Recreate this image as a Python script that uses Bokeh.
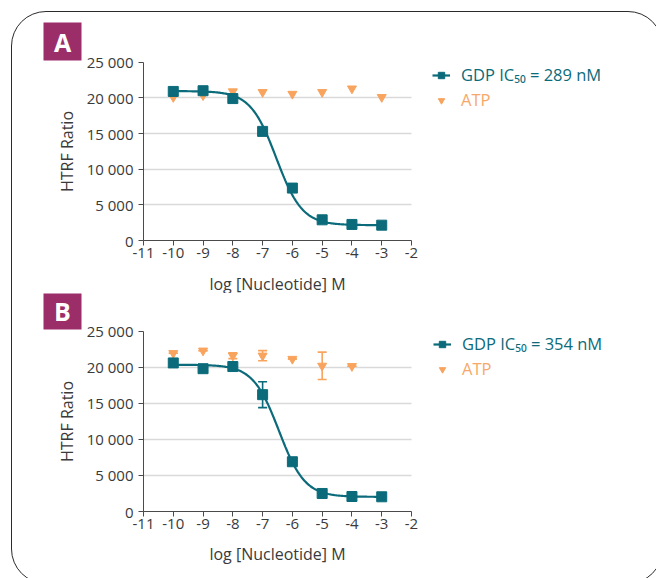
import numpy as np
from bokeh.plotting import figure
from bokeh.layouts import column
from bokeh.models import (Range1d, FixedTicker, Legend, LegendItem, Label, BoxAnnotation,
                          ColumnDataSource, Whisker, TeeHead)
from bokeh.embed import file_html
from bokeh.resources import INLINE

# ---------------- data ----------------
log_conc = [-10, -9, -8, -7, -6, -5, -4, -3]
x_ticks = [-11, -10, -9, -8, -7, -6, -5, -4, -3, -2]
x_tick_labels = ["-11", "-10", "-9", "-8", "-7", "-6", "-5", "-4", "-3", "-2"]
y_ticks = [0, 5000, 10000, 15000, 20000, 25000]
y_tick_labels = ["0", "5 000", "10 000", "15 000", "20 000", "25 000"]
grid_ticks = [5000, 10000, 15000, 20000]
x_title = "log [Nucleotide] M"
y_title = "HTRF Ratio"

# Panel A
a_gdp = [20900, 21000, 19900, 15300, 7350, 2900, 2250, 2150]
a_atp = [20100, 20350, 20900, 20800, 20550, 20800, 21300, 20100]
a_fit = dict(top=20950, bottom=2150, ic50_nM=289, hill=1.0)
a_label = "GDP IC\u2085\u2080 = 289 nM"

# Panel B
b_gdp = [20600, 19800, 20100, 16200, 6900, 2500, 2080, 2040]
b_gdp_err = [0, 0, 0, 1800, 0, 0, 0, 0]
b_atp_x = [-10, -9, -8, -7, -6, -5, -4]
b_atp = [21950, 22300, 21600, 21600, 21150, 20200, 20150]
b_atp_err = [0, 0, 400, 700, 0, 1900, 0]
b_fit = dict(top=20350, bottom=2030, ic50_nM=354, hill=1.0)
b_label = "GDP IC\u2085\u2080 = 354 nM"

TEAL = "#0b6b7a"
ORANGE = "#f8a45e"
ORANGE_TXT = "#f6a86a"
MAGENTA = "#9b2d69"
AX = "#4a4a4a"
TXT = "#3a3a3a"
FONT = "Open Sans"

# ---------------- layout (page pixels) ----------------
FIG_W = 650
PAGE_LEFT = 12            # left of figures on the page (inside rounded border)
AXIS_X_PAGE = 143         # where x = -11 sits
AXIS_END_PAGE = 411       # where x = -2 sits
X_MIN, X_MAX = x_ticks[0], x_ticks[-1]
Y_MIN, Y_MAX = y_ticks[0], y_ticks[-1]


def fit_curve(par):
    xs = np.linspace(-10, -3, 200)
    log_ic50 = np.log10(par["ic50_nM"] * 1e-9)
    ys = par["bottom"] + (par["top"] - par["bottom"]) / (1 + 10 ** ((xs - log_ic50) * par["hill"]))
    return xs, ys


def make_panel(letter, gdp, gdp_err, atp_x, atp, atp_err, par, label,
               fig_top, fig_bot, y0_page, ytop_page, leg_bottoms, leg_x_page,
               box_top_page, title_page):
    height = fig_bot - fig_top
    pxx = (AXIS_END_PAGE - AXIS_X_PAGE) / (X_MAX - X_MIN)
    x_start = X_MIN - (AXIS_X_PAGE - PAGE_LEFT) / pxx
    x_end = x_start + FIG_W / pxx
    pxy = (y0_page - ytop_page) / (Y_MAX - Y_MIN)
    y_start = Y_MIN - (fig_bot - y0_page) / pxy
    y_end = Y_MAX + (ytop_page - fig_top) / pxy

    def sx(px):
        return px - PAGE_LEFT

    def sy(py):
        return fig_bot - py

    p = figure(width=FIG_W, height=height, x_range=Range1d(x_start, x_end),
               y_range=Range1d(y_start, y_end),
               output_backend="svg", toolbar_location=None,
               min_border_left=0, min_border_right=0, min_border_top=0, min_border_bottom=0)
    p.border_fill_color = None
    p.background_fill_color = None
    p.outline_line_color = None

    p.xgrid.visible = False
    p.ygrid.ticker = FixedTicker(ticks=grid_ticks)
    p.ygrid.grid_line_color = "#d9d9d9"
    p.ygrid.grid_line_width = 1.3
    p.ygrid.cross_bounds = (X_MIN, X_MAX)

    for ax in (p.xaxis[0], p.yaxis[0]):
        ax.axis_line_color = AX
        ax.major_tick_line_color = AX
        ax.minor_tick_line_color = None
        ax.major_tick_in = 0
        ax.major_tick_out = 5
        ax.major_label_text_font = FONT
        ax.major_label_text_font_size = "15px"
        ax.major_label_text_color = TXT
        ax.axis_label_text_font = FONT
        ax.axis_label_text_font_size = "16px"
        ax.axis_label_text_font_style = "normal"
        ax.axis_label_text_color = TXT

    p.xaxis.ticker = FixedTicker(ticks=x_ticks)
    p.xaxis.bounds = (X_MIN, X_MAX)
    p.xaxis.fixed_location = Y_MIN
    p.xaxis.major_label_overrides = dict(zip(x_ticks, x_tick_labels))
    p.xaxis.major_label_standoff = 2

    p.yaxis.ticker = FixedTicker(ticks=y_ticks)
    p.yaxis.bounds = (Y_MIN, Y_MAX)
    p.yaxis.fixed_location = X_MIN
    p.yaxis.major_label_overrides = dict(zip(y_ticks, y_tick_labels))
    p.yaxis.axis_label = y_title
    p.yaxis.major_label_standoff = 5
    p.yaxis.axis_label_standoff = 6

    # x axis title, centred under the bounded axis
    p.add_layout(Label(x=sx((AXIS_X_PAGE + AXIS_END_PAGE) / 2), y=sy(title_page),
                       x_units="screen", y_units="screen", text=x_title,
                       text_font=FONT, text_font_size="16px", text_color=TXT,
                       text_align="center", text_baseline="middle"))

    fx, fy = fit_curve(par)
    line = p.line(fx, fy, line_color=TEAL, line_width=2.2)

    if any(gdp_err):
        src = ColumnDataSource(dict(x=log_conc,
                                    lo=[v - e for v, e in zip(gdp, gdp_err)],
                                    hi=[v + e for v, e in zip(gdp, gdp_err)]))
        p.add_layout(Whisker(source=src, base="x", lower="lo", upper="hi",
                             line_color=TEAL, line_width=1.6,
                             upper_head=TeeHead(size=9, line_color=TEAL, line_width=1.6),
                             lower_head=TeeHead(size=9, line_color=TEAL, line_width=1.6)))
    if any(atp_err):
        src2 = ColumnDataSource(dict(x=atp_x,
                                     lo=[v - e for v, e in zip(atp, atp_err)],
                                     hi=[v + e for v, e in zip(atp, atp_err)]))
        p.add_layout(Whisker(source=src2, base="x", lower="lo", upper="hi",
                             line_color=ORANGE, line_width=1.6,
                             upper_head=TeeHead(size=9, line_color=ORANGE, line_width=1.6),
                             lower_head=TeeHead(size=9, line_color=ORANGE, line_width=1.6)))

    tri = p.scatter(atp_x, atp, marker="inverted_triangle", size=9,
                    fill_color=ORANGE, line_color=ORANGE)
    sq = p.scatter(log_conc, gdp, marker="square", size=10,
                   fill_color=TEAL, line_color=TEAL)

    common = dict(padding=0, margin=0, border_line_color=None, background_fill_alpha=0,
                  label_text_font=FONT, label_text_font_size="16.5px",
                  glyph_width=18, glyph_height=16, label_height=16, label_standoff=11,
                  spacing=0)
    leg1 = Legend(items=[LegendItem(label=label, renderers=[line, sq])],
                  location=(sx(leg_x_page), sy(leg_bottoms[0])), label_text_color=TEAL, **common)
    leg2 = Legend(items=[LegendItem(label="ATP", renderers=[tri])],
                  location=(sx(leg_x_page), sy(leg_bottoms[1])), label_text_color=ORANGE_TXT, **common)
    p.add_layout(leg1)
    p.add_layout(leg2)

    # panel letter box
    bx0, bsz = 43, 38
    p.add_layout(BoxAnnotation(left=sx(bx0), right=sx(bx0 + bsz),
                               top=sy(box_top_page), bottom=sy(box_top_page + bsz),
                               left_units="screen", right_units="screen",
                               top_units="screen", bottom_units="screen",
                               fill_color=MAGENTA, fill_alpha=1, line_color=None))
    p.add_layout(Label(x=sx(bx0 + bsz / 2), y=sy(box_top_page + bsz / 2),
                       x_units="screen", y_units="screen", text=letter,
                       text_font=FONT, text_font_size="25px", text_font_style="bold",
                       text_color="white", text_align="center", text_baseline="middle"))
    return p


pA = make_panel("A", a_gdp, [0] * 8, log_conc, a_atp, [0] * 8, a_fit, a_label,
                fig_top=12, fig_bot=293, y0_page=240, ytop_page=61.7,
                leg_bottoms=(86, 111), leg_x_page=432, box_top_page=22, title_page=283)
pB = make_panel("B", b_gdp, b_gdp_err, b_atp_x, b_atp, b_atp_err, b_fit, b_label,
                fig_top=293, fig_bot=583, y0_page=511, ytop_page=330.7,
                leg_bottoms=(355, 380), leg_x_page=433, box_top_page=291, title_page=553)

layout = column(pA, pB, margin=(11, 0, 0, 11),
                styles={"border": "1.4px solid #2b2b2b", "border-radius": "35px"})

html = file_html(layout, INLINE)
html = html.replace("<head>", "<head><style>html,body{margin:0;padding:0;overflow:hidden;background:#ffffff;}</style>", 1)
open("out.html", "w").write(html)
